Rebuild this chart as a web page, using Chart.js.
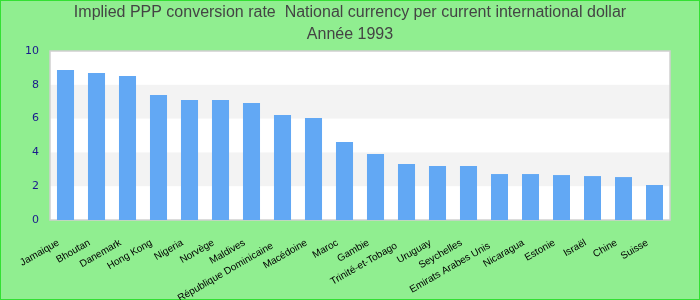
<!DOCTYPE html>
<html>
<head>
<meta charset="utf-8">
<script src="https://cdn.jsdelivr.net/npm/chart.js@4"></script>
<style>
  body { margin: 0; background: #90ee90; }
  canvas { display: block; }
</style>
</head>
<body>
<canvas id="chart" width="700" height="300"></canvas>
<script>
// Data
const countries = ['Jamaique', 'Bhoutan', 'Danemark', 'Hong Kong', 'Nigeria', 'Norvège', 'Maldives',
  'République Dominicaine', 'Macédoine', 'Maroc', 'Gambie', 'Trinité-et-Tobago', 'Uruguay',
  'Seychelles', 'Emirats Arabes Unis', 'Nicaragua', 'Estonie', 'Israël', 'Chine', 'Suisse'];
const pppRate = [8.88, 8.70, 8.52, 7.40, 7.10, 7.10, 6.92, 6.21, 6.04, 4.62, 3.91, 3.31, 3.20,
  3.20, 2.72, 2.72, 2.66, 2.60, 2.54, 2.07];
const yTicks = [0, 2, 4, 6, 8, 10];
const titleLines = ['Implied PPP conversion rate  National currency per current international dollar', 'Année 1993'];

// labels nudged down so they don't collide
const lowered = [7, 11, 14];

const decor = {
  id: 'decor',
  beforeDraw(chart) {
    const { ctx, width, height } = chart;
    ctx.save();
    ctx.fillStyle = '#90ee90';
    ctx.fillRect(0, 0, width, height);
    ctx.strokeStyle = '#33e033';
    ctx.lineWidth = 2;
    ctx.strokeRect(0, 0, width, height);

    // title
    ctx.fillStyle = '#444';
    ctx.font = '16px "Liberation Sans", Arial';
    ctx.textAlign = 'center';
    ctx.textBaseline = 'middle';
    ctx.fillText(titleLines[0], width / 2, 13);
    ctx.fillText(titleLines[1], width / 2, 35);
    ctx.restore();
  },
  beforeDatasetsDraw(chart) {
    const { ctx, chartArea: a, scales: { y } } = chart;
    ctx.save();
    ctx.fillStyle = '#ffffff';
    ctx.fillRect(a.left, a.top, a.right - a.left, a.bottom - a.top);
    ctx.fillStyle = '#f3f3f3';
    for (let i = 1; i < yTicks.length - 1; i += 2) {
      const top = y.getPixelForValue(yTicks[i + 1]);
      const bottom = y.getPixelForValue(yTicks[i]);
      ctx.fillRect(a.left, top, a.right - a.left, bottom - top);
    }
    ctx.strokeStyle = '#d0d0d0';
    ctx.lineWidth = 1.5;
    ctx.strokeRect(a.left, a.top, a.right - a.left, a.bottom - a.top);
    ctx.restore();
  },
  afterDraw(chart) {
    // rotated category labels
    const { ctx, chartArea: a, scales: { x } } = chart;
    ctx.save();
    ctx.fillStyle = '#000';
    ctx.font = '10px "Liberation Sans", Arial';
    ctx.textAlign = 'right';
    ctx.textBaseline = 'middle';
    countries.forEach((name, i) => {
      const low = lowered.includes(i);
      const px = x.getPixelForValue(i) - (low ? 10 : 7);
      const py = a.bottom + (low ? 25 : 22);
      ctx.save();
      ctx.translate(px, py);
      ctx.rotate(-Math.PI / 6);
      ctx.fillText(name, 0, 0);
      ctx.restore();
    });
    ctx.restore();
  }
};

new Chart(document.getElementById('chart'), {
  type: 'bar',
  data: {
    labels: countries,
    datasets: [{
      data: pppRate,
      backgroundColor: '#62a8f4',
      barPercentage: 0.55,
      categoryPercentage: 1.0
    }]
  },
  options: {
    responsive: false,
    animation: false,
    layout: { padding: { top: 51, right: 30, left: 0, bottom: 0 } },
    plugins: {
      legend: { display: false },
      tooltip: { enabled: false }
    },
    scales: {
      x: {
        grid: { display: false, drawTicks: false },
        border: { display: false },
        afterFit(scale) { scale.height = 80; },
        ticks: { display: false }
      },
      y: {
        min: 0,
        max: 10,
        afterFit(scale) { scale.width = 50; },
        afterBuildTicks(scale) { scale.ticks = yTicks.map(v => ({ value: v })); },
        grid: { display: false, drawTicks: false },
        border: { display: false },
        ticks: {
          color: '#1a1a8c',
          padding: 11,
          font: { family: '"DejaVu Sans", Verdana', size: 11 }
        }
      }
    }
  },
  plugins: [decor]
});
</script>
</body>
</html>
